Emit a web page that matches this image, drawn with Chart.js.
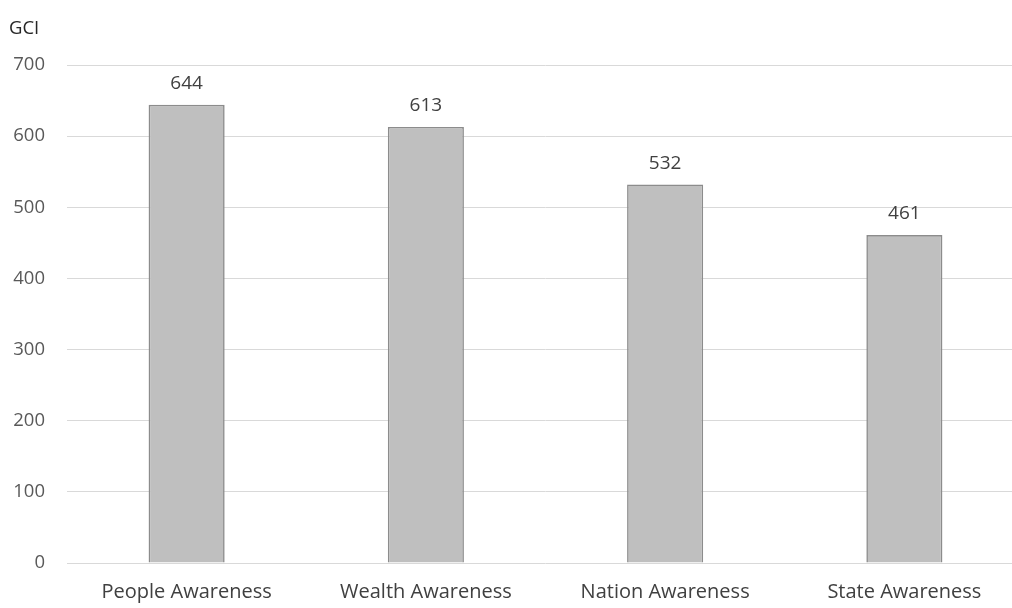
<!DOCTYPE html>
<html>
<head>
<meta charset="utf-8">
<script src="https://cdn.jsdelivr.net/npm/chart.js@4"></script>
<style>
  html, body { margin: 0; padding: 0; background: #ffffff; overflow: hidden; }
  #wrap { position: relative; width: 1024px; height: 608px; }
  #axisTitle { position: absolute; left: 9px; top: 14px; font-family: "Open Sans", sans-serif; font-size: 18.5px; color: #262626; }
</style>
</head>
<body>
<div id="wrap">
  <canvas id="chart" width="1024" height="608"></canvas>
  <div id="axisTitle">GCI</div>
</div>
<script>
const categories = ["People Awareness", "Wealth Awareness", "Nation Awareness", "State Awareness"];
const gciValues = [644, 613, 532, 461];
const yTicks = [0, 100, 200, 300, 400, 500, 600, 700];

const FONT = '"Open Sans", sans-serif';

// Writes each bar's value just above its top edge
const valueLabels = {
  id: 'valueLabels',
  afterDatasetsDraw(chart) {
    const ctx = chart.ctx;
    const meta = chart.getDatasetMeta(0);
    ctx.save();
    ctx.font = '19px ' + FONT;
    ctx.fillStyle = '#404040';
    ctx.textAlign = 'center';
    ctx.textBaseline = 'middle';
    meta.data.forEach((bar, i) => {
      ctx.fillText(String(chart.data.datasets[0].data[i]), bar.x, bar.y - 21);
    });
    ctx.restore();
  }
};

new Chart(document.getElementById('chart'), {
  type: 'bar',
  data: {
    labels: categories,
    datasets: [{
      data: gciValues,
      backgroundColor: '#bfbfbf',
      borderColor: '#8c8c8c',
      borderWidth: 1.6,
      categoryPercentage: 1,
      barPercentage: 0.318
    }]
  },
  options: {
    responsive: false,
    animation: false,
    layout: { padding: { top: 65, left: 0, right: 0, bottom: 0 } },
    plugins: { legend: { display: false }, tooltip: { enabled: false } },
    scales: {
      x: {
        grid: { display: false, drawTicks: false },
        border: { display: false },
        ticks: { color: '#404040', font: { family: FONT, size: 20 }, padding: 17 },
        afterFit(scale) { scale.height = 45; }
      },
      y: {
        min: 0,
        max: 700,
        afterBuildTicks(scale) { scale.ticks = yTicks.map(v => ({ value: v })); },
        grid: { color: '#d9d9d9', lineWidth: 1, drawTicks: false },
        border: { display: false },
        ticks: { color: '#595959', font: { family: FONT, size: 18.5 }, padding: 22 },
        afterFit(scale) { scale.width = 67; }
      }
    }
  },
  plugins: [valueLabels]
});
</script>
</body>
</html>
